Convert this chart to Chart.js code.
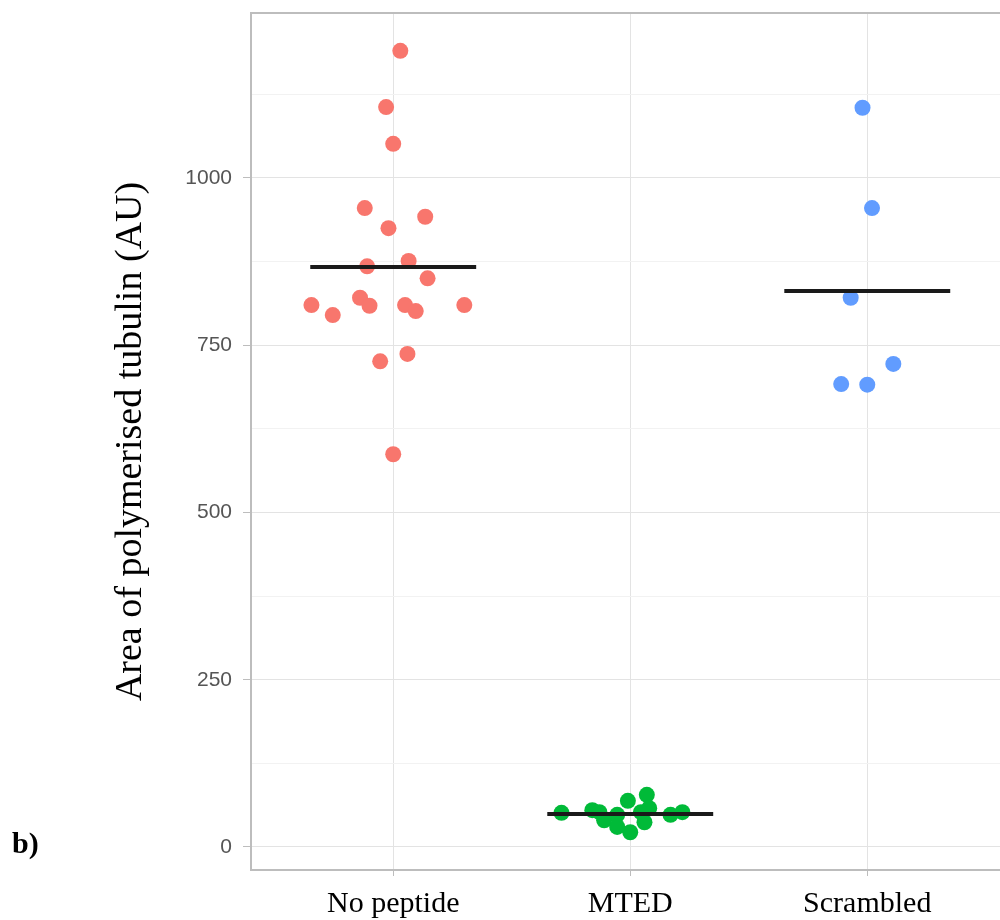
<!DOCTYPE html>
<html>
<head>
<meta charset="utf-8">
<script src="https://cdn.jsdelivr.net/npm/chart.js@4/dist/chart.umd.min.js"></script>
<style>
  body { margin: 0; background: #fff; overflow: hidden; }
  #wrap { position: relative; width: 1000px; height: 920px; overflow: hidden; }
  #myChart { display: block; }
  #tag { position: absolute; left: 12px; top: 826px; font: bold 30px "Liberation Serif", serif; }
</style>
</head>
<body>
<div id="wrap">
  <canvas id="myChart" width="1008" height="920"></canvas>
  <div id="tag">b)</div>
</div>
<script>
// data
const categories = ['No peptide', 'MTED', 'Scrambled']
const colors = ['#F8766D', '#00BA38', '#619CFF']

const noPeptide  = [1190, 1106, 1051, 955, 925, 942, 868, 876, 850, 810, 821, 809, 810, 801, 810, 795, 726, 737, 587]
const noPeptideJ = [0.03, -0.03, 0.00, -0.12, -0.02, 0.135, -0.11, 0.065, 0.145, -0.345, -0.14, -0.10, 0.05, 0.095, 0.30, -0.255, -0.055, 0.06, 0.00]

const mted  = [51, 55, 52, 40, 48, 30, 69, 22, 78, 58, 52, 37, 48, 52]
const mtedJ = [-0.29, -0.16, -0.13, -0.11, -0.055, -0.055, -0.01, 0.00, 0.07, 0.08, 0.045, 0.06, 0.17, 0.22]

const scrambled  = [1105, 955, 821, 722, 692, 691]
const scrambledJ = [-0.02, 0.02, -0.07, 0.11, -0.11, 0.00]

const yMajor = [0, 250, 500, 750, 1000]
const yGrid = [0, 125, 250, 375, 500, 625, 750, 875, 1000, 1125]

const groups = [[noPeptide, noPeptideJ], [mted, mtedJ], [scrambled, scrambledJ]]

const pointSets = groups.map((g, i) => ({
    type: 'scatter',
    label: categories[i],
    data: g[0].map((v, k) => ({ x: i + 1 + g[1][k], y: v })),
    backgroundColor: colors[i],
    borderWidth: 0,
    pointRadius: 8,
    pointHoverRadius: 8,
    order: 1,
}))

const meanSets = groups.map((g, i) => {
    const m = g[0].reduce((a, b) => a + b, 0) / g[0].length
    return {
        type: 'line',
        label: 'mean ' + categories[i],
        data: [{ x: i + 1 - 0.35, y: m }, { x: i + 1 + 0.35, y: m }],
        borderColor: '#1a1a1a',
        borderWidth: 4,
        pointRadius: 0,
        fill: false,
        order: 0,
    }
})

const panelTop = {
    id: 'panelTop',
    beforeDatasetsDraw(chart) {
        const { ctx, chartArea } = chart
        ctx.save()
        ctx.strokeStyle = '#bdbdbd'
        ctx.lineWidth = 2
        ctx.beginPath()
        ctx.moveTo(chartArea.left - 1, chartArea.top)
        ctx.lineTo(chartArea.right, chartArea.top)
        ctx.stroke()
        ctx.restore()
    }
}

function noPad(s) {
    s.paddingTop = 0
    s.paddingBottom = 0
    s.paddingLeft = 0
    s.paddingRight = 0
}

const ctx = document.getElementById('myChart')
new Chart(ctx, {
    data: { datasets: [...meanSets, ...pointSets] },
    plugins: [panelTop],
    options: {
        responsive: false,
        animation: false,
        layout: { padding: { top: 13, right: 0, left: 0, bottom: 0 } },
        plugins: { legend: { display: false }, tooltip: { enabled: false } },
        scales: {
            x: {
                type: 'linear',
                min: 0.4,
                max: 3.56,
                afterBuildTicks: s => { s.ticks = categories.map((c, i) => ({ value: i + 1 })) },
                afterFit: s => { s.height = 50; noPad(s) },
                ticks: {
                    callback: (v, i) => categories[i],
                    font: { family: 'Liberation Serif', size: 30 },
                    color: '#000',
                    padding: 10,
                    maxRotation: 0,
                    autoSkip: false,
                },
                grid: { color: '#e3e3e3', lineWidth: 1, tickLength: 6, tickColor: '#bdbdbd' },
                border: { color: '#bdbdbd', width: 2 },
            },
            y: {
                type: 'linear',
                min: -34.4,
                max: 1246.6,
                afterBuildTicks: s => { s.ticks = yGrid.map(v => ({ value: v })) },
                afterFit: s => { s.width = 251; noPad(s) },
                ticks: {
                    callback: v => yMajor.includes(v) ? String(v) : '',
                    font: { family: 'Liberation Sans', size: 21 },
                    color: '#555',
                    padding: 11,
                },
                grid: {
                    color: c => yMajor.includes(c.tick.value) ? '#e3e3e3' : '#f2f2f2',
                    tickColor: c => yMajor.includes(c.tick.value) ? '#bdbdbd' : 'rgba(0,0,0,0)',
                    tickLength: 8,
                    lineWidth: 1,
                },
                border: { color: '#bdbdbd', width: 2 },
                title: {
                    display: true,
                    text: 'Area of polymerised tubulin (AU)',
                    font: { family: 'Liberation Serif', size: 38 },
                    color: '#000',
                    padding: { top: 108, bottom: 0 },
                },
            },
        },
    },
})
</script>
</body>
</html>
